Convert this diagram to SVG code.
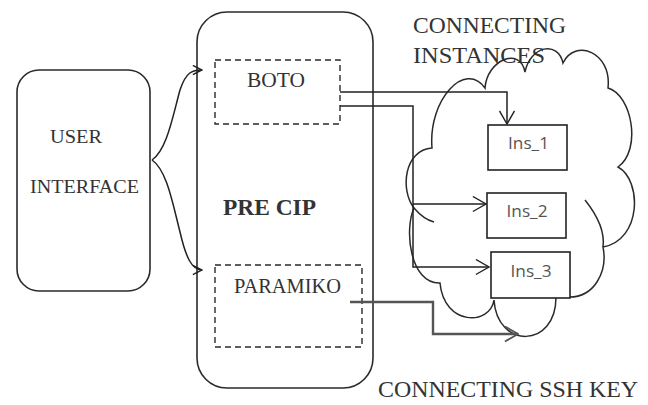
<svg xmlns="http://www.w3.org/2000/svg" width="648" height="405" viewBox="0 0 648 405">
<defs>
<style>
.box{fill:none;stroke:#2a2a2a;stroke-width:1.6}
.dash{fill:none;stroke:#2a2a2a;stroke-width:1.4;stroke-dasharray:6 4}
.ins{fill:#fff;stroke:#222;stroke-width:1.6}
.serif{font-family:"Liberation Serif","Times New Roman",serif;fill:#333}
.sans{font-family:"Open Sans","Liberation Sans",sans-serif;font-size:16px;fill:#555;text-anchor:middle}
.conn{fill:none;stroke:#222;stroke-width:1.5}
.cloud{fill:none;stroke:#2a2a2a;stroke-width:1.5}
</style>
<marker id="arr" viewBox="0 0 16 18" markerWidth="15" markerHeight="17" refX="15" refY="9" orient="auto" markerUnits="userSpaceOnUse">
<path d="M1,1 L15,9 L1,17" fill="none" stroke="#222" stroke-width="1.5"/>
</marker>
<marker id="arrS" viewBox="0 0 12 12" markerWidth="11" markerHeight="11" refX="11" refY="6" orient="auto" markerUnits="userSpaceOnUse">
<path d="M1,1 L11,6 L1,11" fill="none" stroke="#222" stroke-width="1.6"/>
</marker>
<marker id="arrG" viewBox="0 0 16 18" markerWidth="15" markerHeight="17" refX="15" refY="9" orient="auto" markerUnits="userSpaceOnUse">
<path d="M1,1 L15,9 L1,17" fill="none" stroke="#555" stroke-width="2"/>
</marker>
</defs>
<rect width="648" height="405" fill="#fff"/>

<g id="user-interface">
<rect class="box" x="17" y="70" width="133" height="221" rx="22"/>
<text class="serif" x="50" y="143" font-size="19" textLength="52" lengthAdjust="spacingAndGlyphs">USER</text>
<text class="serif" x="30" y="193" font-size="19" textLength="109" lengthAdjust="spacingAndGlyphs">INTERFACE</text>
</g>

<g id="precip">
<rect class="box" x="197" y="12" width="176" height="376" rx="30"/>
<text class="serif" x="223" y="215" font-size="23" font-weight="bold" fill="#222" textLength="93" lengthAdjust="spacingAndGlyphs">PRE CIP</text>
</g>

<g id="boto">
<rect class="dash" x="215" y="60" width="125" height="64"/>
<text class="serif" x="247" y="87" font-size="20.5" textLength="58" lengthAdjust="spacingAndGlyphs">BOTO</text>
</g>

<g id="paramiko">
<rect class="dash" x="215" y="265" width="147" height="82"/>
<text class="serif" x="234" y="293" font-size="20.5" textLength="107" lengthAdjust="spacingAndGlyphs">PARAMIKO</text>
</g>

<g id="labels">
<text class="serif" x="413" y="33" font-size="23" textLength="153" lengthAdjust="spacingAndGlyphs">CONNECTING</text>
<text class="serif" x="413" y="63" font-size="23" textLength="132" lengthAdjust="spacingAndGlyphs">INSTANCES</text>
<text class="serif" x="378" y="397" font-size="23" textLength="260" lengthAdjust="spacingAndGlyphs">CONNECTING SSH KEY</text>
</g>

<g id="cloud">
<path class="cloud" d="M432,148 C428,100 465,60 485,88 C487,60 520,46 525,72 C530,46 558,40 563,63 C575,38 612,52 608,88 C632,95 642,150 618,167 C642,180 642,240 603,247 C608,272 594,298 568,297 L556,297 C556,349 497,349 494,300 C490,326 444,326 440,283 C410,284 404,230 414,208 C400,190 404,150 432,148 Z"/>
<path class="cloud" d="M414,208 C420,215 426,220 434,222"/>
<path class="cloud" d="M585,200 C597,215 605,232 603,247"/>
</g>

<g id="ins1">
<rect class="ins" x="488" y="125" width="79" height="45"/>
<text class="sans" x="528.5" y="149" textLength="41" lengthAdjust="spacingAndGlyphs">Ins_1</text>
</g>
<g id="ins2">
<rect class="ins" x="487" y="193" width="79" height="45"/>
<text class="sans" x="527" y="217" textLength="41" lengthAdjust="spacingAndGlyphs">Ins_2</text>
</g>
<g id="ins3">
<rect class="ins" x="491" y="252" width="79" height="46"/>
<text class="sans" x="531" y="277" textLength="41" lengthAdjust="spacingAndGlyphs">Ins_3</text>
</g>

<g id="connectors">
<path class="conn" d="M152,160 C167,150 173,115 180,90 C186,72 192,70 202,70" marker-end="url(#arrS)"/>
<path class="conn" d="M152,160 C167,170 173,205 180,232 C186,258 192,270 202,270" marker-end="url(#arrS)"/>
<path class="conn" d="M340,92 H507 V124" marker-end="url(#arr)"/>
<path class="conn" d="M340,106 H413 V204 H486" marker-end="url(#arr)"/>
<path class="conn" d="M413,204 V267 H489" marker-end="url(#arr)"/>
<path d="M350,302 H433 V334 H518" fill="none" stroke="#555" stroke-width="2.4" marker-end="url(#arrG)"/>
</g>
</svg>
